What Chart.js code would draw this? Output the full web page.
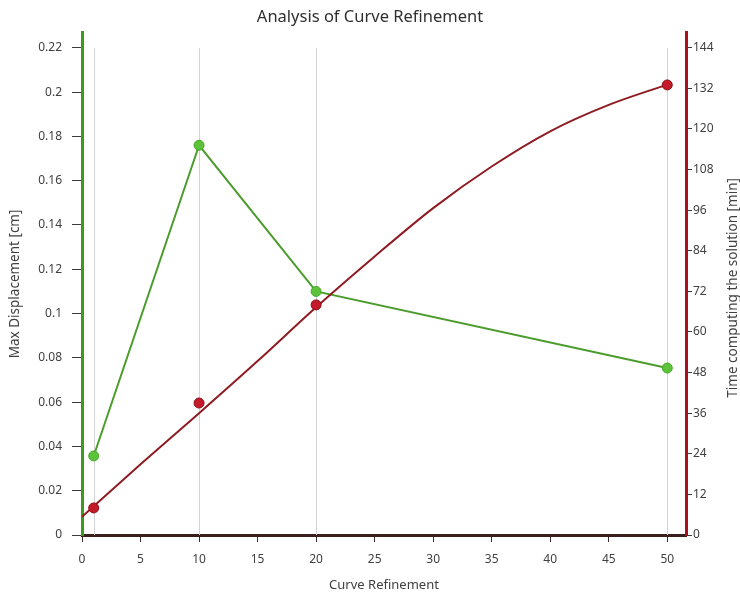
<!DOCTYPE html>
<html>
<head>
<meta charset="utf-8">
<title>Analysis of Curve Refinement</title>
<script src="https://cdn.jsdelivr.net/npm/chart.js@4/dist/chart.umd.min.js"></script>
<style>
  html, body { margin: 0; padding: 0; background: #ffffff; }
  #wrap { width: 740px; height: 593px; }
</style>
</head>
<body>
<div id="wrap"><canvas id="chart" width="740" height="593"></canvas></div>
<script>
// Refinement levels tested and the measured results
const refinement = [1, 10, 20, 50];
const maxDisplacement = [0.0357, 0.176, 0.110, 0.0754];
const solveTime = [8, 39, 68, 133];

// Smoothed trend of the computing time
const trendX = [0, 5, 10, 15, 20, 25, 30, 35, 40, 45, 50];
const trendTime = [5.4, 20.9, 36.0, 51.4, 67.3, 82.3, 96.6, 108.9, 119.3, 127.1, 133.1];

// Axis ticks
const xTicks = [0, 5, 10, 15, 20, 25, 30, 35, 40, 45, 50];
const leftTicks = [0, 0.02, 0.04, 0.06, 0.08, 0.1, 0.12, 0.14, 0.16, 0.18, 0.2, 0.22];
const rightTicks = [0, 12, 24, 36, 48, 60, 72, 84, 96, 108, 120, 132, 144];
const gridAt = [1, 10, 20, 50];

const FONT = "'Noto Sans', 'Open Sans', sans-serif";
const TEXT = '#404040';
const RIGHT_TITLE = 'Time computing the solution [min]';

// Light vertical guides at each refinement level, from the top tick to the x axis
const refinementGuides = {
  id: 'refinementGuides',
  beforeDatasetsDraw(chart) {
    const { ctx, scales } = chart;
    const x = scales.x, y = scales.y;
    const top = y.getPixelForValue(leftTicks[leftTicks.length - 1]);
    const bottom = y.getPixelForValue(0);
    ctx.save();
    ctx.strokeStyle = '#d3d3d3';
    ctx.lineWidth = 1;
    gridAt.forEach(v => {
      const px = Math.round(x.getPixelForValue(v)) + 0.5;
      ctx.beginPath();
      ctx.moveTo(px, top);
      ctx.lineTo(px, bottom);
      ctx.stroke();
    });
    ctx.restore();
  }
};

// Right-hand axis title, written bottom-to-top like the left one
const rightAxisTitle = {
  id: 'rightAxisTitle',
  afterDraw(chart) {
    const { ctx, chartArea } = chart;
    const s = chart.scales.y1;
    ctx.save();
    ctx.translate(s.right - 7, (chartArea.top + chartArea.bottom) / 2 + 4);
    ctx.rotate(-Math.PI / 2);
    ctx.fillStyle = TEXT;
    ctx.font = '13.5px ' + FONT;
    ctx.textAlign = 'center';
    ctx.textBaseline = 'middle';
    ctx.fillText(RIGHT_TITLE, 0, 0);
    ctx.restore();
  }
};

new Chart(document.getElementById('chart'), {
  type: 'line',
  data: {
    datasets: [
      {
        label: 'Time points',
        data: refinement.map((r, i) => ({ x: r, y: solveTime[i] })),
        yAxisID: 'y1',
        showLine: false,
        pointRadius: 5,
        pointBackgroundColor: '#c41a2a',
        pointBorderColor: '#8a0f18',
        pointBorderWidth: 1
      },
      {
        label: 'Time trend',
        data: trendX.map((r, i) => ({ x: r, y: trendTime[i] })),
        yAxisID: 'y1',
        borderColor: '#8e1c22',
        borderWidth: 2,
        pointRadius: 0,
        cubicInterpolationMode: 'monotone',
        fill: false
      },
      {
        label: 'Max Displacement',
        data: refinement.map((r, i) => ({ x: r, y: maxDisplacement[i] })),
        yAxisID: 'y',
        borderColor: '#4b9c2c',
        borderWidth: 2,
        pointRadius: 5,
        pointBackgroundColor: '#5cc23a',
        pointBorderColor: '#46a82a',
        pointBorderWidth: 1,
        tension: 0,
        fill: false
      }
    ]
  },
  options: {
    responsive: false,
    devicePixelRatio: 1,
    animation: false,
    layout: { padding: 0 },
    plugins: {
      legend: { display: false },
      tooltip: { enabled: false },
      title: {
        display: true,
        text: 'Analysis of Curve Refinement',
        color: '#303030',
        font: { family: FONT, size: 16.5, weight: 'normal' },
        padding: { top: 7, bottom: 6 }
      }
    },
    scales: {
      x: {
        type: 'linear',
        min: 0,
        max: 51.6,
        afterBuildTicks: s => { s.ticks = xTicks.map(v => ({ value: v })); },
        afterFit: s => { s.height = 58; },
        grid: { drawOnChartArea: false, drawTicks: true, tickLength: 7, color: '#3a2a2a', lineWidth: 1 },
        border: { display: true, color: '#3b1f1f', width: 3 },
        ticks: { color: TEXT, font: { family: FONT, size: 12 }, padding: 10, maxRotation: 0 },
        title: {
          display: true,
          text: 'Curve Refinement',
          color: TEXT,
          font: { family: FONT, size: 13 },
          padding: { top: 2, bottom: 0 }
        }
      },
      y: {
        type: 'linear',
        position: 'left',
        min: 0,
        max: 0.2268,
        afterBuildTicks: s => { s.ticks = leftTicks.map(v => ({ value: v })); },
        afterFit: s => { s.width = 82; },
        grid: { drawOnChartArea: false, drawTicks: true, tickLength: 10, color: '#3a3a3a', lineWidth: 1 },
        border: { display: true, color: '#3c9a1e', width: 3 },
        ticks: {
          color: TEXT,
          font: { family: FONT, size: 12 },
          padding: 10,
          callback: v => String(Math.round(v * 100) / 100)
        },
        title: {
          display: true,
          text: 'Max Displacement [cm]',
          color: TEXT,
          font: { family: FONT, size: 13.5 },
          padding: { top: 7, bottom: 0 }
        }
      },
      y1: {
        type: 'linear',
        position: 'right',
        min: 0,
        max: 148.4,
        afterBuildTicks: s => { s.ticks = rightTicks.map(v => ({ value: v })); },
        afterFit: s => { s.width = 54; },
        grid: { drawOnChartArea: false, drawTicks: true, tickLength: 6, color: '#3a3a3a', lineWidth: 1 },
        border: { display: true, color: '#a8101e', width: 3 },
        ticks: { color: TEXT, font: { family: FONT, size: 12 }, padding: 1 },
        title: { display: false }
      }
    }
  },
  plugins: [refinementGuides, rightAxisTitle]
});
</script>
</body>
</html>
